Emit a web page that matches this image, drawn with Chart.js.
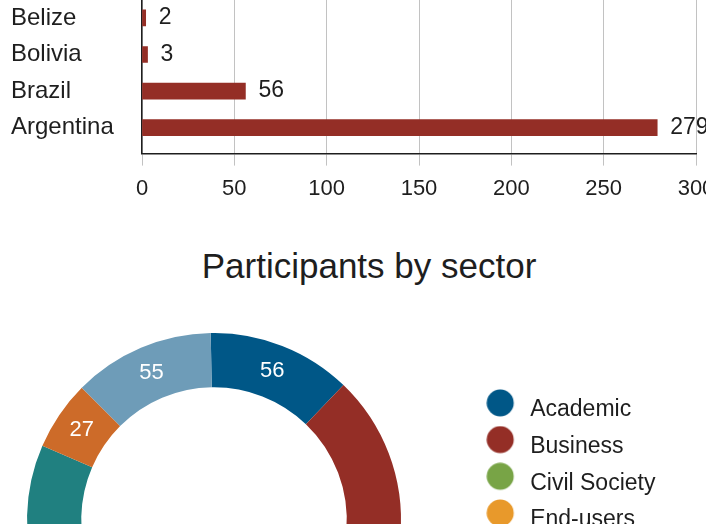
<!DOCTYPE html>
<html>
<head>
<meta charset="utf-8">
<script src="https://cdn.jsdelivr.net/npm/chart.js@4"></script>
<style>
  html, body { margin: 0; padding: 0; background: #fff; overflow: hidden; }
  #page { position: relative; width: 706px; height: 524px; overflow: hidden; }
  canvas { position: absolute; }
  #bars { left: 0; top: 0; }
  #sectors { left: -54px; top: 333px; }
  h2 {
    position: absolute; left: 0; top: 246px; width: 738px; margin: 0;
    text-align: center; font: normal 35px/40px 'Liberation Sans', sans-serif; color: #1e1e1e;
  }
</style>
</head>
<body>
<div id="page">
  <canvas id="bars" width="740" height="212"></canvas>
  <h2>Participants by sector</h2>
  <canvas id="sectors" width="800" height="374"></canvas>
</div>
<script>
// participants by country (bottom of the list only)
const countries = ['Belize', 'Bolivia', 'Brazil', 'Argentina'];
const countryValues = [2, 3, 56, 279];
const xTicks = [0, 50, 100, 150, 200, 250, 300];

// participants by sector
const sectors = ['Academic', 'Business', 'Civil Society', 'End-users', 'Government', 'Technical', 'Other'];
const sectorValues = [56, 127, 30, 45, 110, 27, 55];
const sectorColors = ['#005787', '#942e26', '#78a446', '#e8992b', '#208080', '#cd6b29', '#6e9cb8'];

Chart.defaults.font.family = "'Liberation Sans', sans-serif";
Chart.defaults.color = '#1e1e1e';

const barValues = {
    id: 'barValues',
    afterDatasetsDraw(chart) {
        const ctx = chart.ctx;
        ctx.save();
        ctx.font = "23px 'Liberation Sans'";
        ctx.fillStyle = '#1e1e1e';
        ctx.textAlign = 'left';
        ctx.textBaseline = 'middle';
        chart.getDatasetMeta(0).data.forEach((bar, i) => {
            ctx.fillText(countryValues[i], bar.x + 13, bar.y);
        });
        ctx.restore();
    }
};

const arcValues = {
    id: 'arcValues',
    afterDatasetsDraw(chart) {
        const ctx = chart.ctx;
        ctx.save();
        ctx.font = "22px 'Liberation Sans'";
        ctx.fillStyle = '#fff';
        ctx.textAlign = 'center';
        ctx.textBaseline = 'middle';
        chart.getDatasetMeta(0).data.forEach((arc, i) => {
            const p = arc.tooltipPosition();
            ctx.fillText(sectorValues[i], p.x, p.y);
        });
        ctx.restore();
    }
};

new Chart(document.getElementById('bars'), {
    type: 'bar',
    data: {
        datasets: [{
            data: countryValues.map((v, i) => ({ x: v, y: i })),
            backgroundColor: '#942e26',
            borderWidth: 0,
            barThickness: 16
        }]
    },
    options: {
        indexAxis: 'y',
        responsive: false,
        animation: false,
        layout: { padding: { left: 11, right: 44, top: 0, bottom: 0 } },
        plugins: { legend: { display: false }, tooltip: { enabled: false } },
        scales: {
            x: {
                type: 'linear',
                min: xTicks[0],
                max: xTicks[xTicks.length - 1],
                afterBuildTicks: s => { s.ticks = xTicks.map(v => ({ value: v })); },
                grid: { color: '#c2c2c2', lineWidth: 1, tickLength: 12 },
                border: { color: '#1e1e1e', width: 1.5 },
                ticks: { font: { size: 22 }, padding: 10, maxRotation: 0, autoSkip: false }
            },
            y: {
                type: 'linear',
                reverse: true,
                offset: false,
                min: -0.49,
                max: 3.71,
                afterBuildTicks: s => { s.ticks = countries.map((c, i) => ({ value: i })); },
                afterFit: s => { s.width = 131; s.paddingTop = 0; s.paddingBottom = 0; },
                grid: { display: false, drawTicks: false, offset: false },
                border: { color: '#1e1e1e', width: 1.5 },
                ticks: { font: { size: 24 }, crossAlign: 'far', padding: 0, autoSkip: false,
                         callback: v => countries[v] }
            }
        }
    },
    plugins: [barValues]
});

function dot(color) {
    const c = document.createElement('canvas');
    c.width = 42;
    c.height = 42;
    const g = c.getContext('2d');
    g.fillStyle = color;
    g.beginPath();
    g.arc(14, 14, 13.5, 0, 2 * Math.PI);
    g.fill();
    return c;
}
const dots = sectorColors.map(dot);

const donut = new Chart(document.getElementById('sectors'), {
    type: 'doughnut',
    data: {
        labels: sectors,
        datasets: [{
            data: sectorValues,
            backgroundColor: sectorColors,
            borderWidth: 0,
            hoverOffset: 0,
            offset: 0
        }]
    },
    options: {
        responsive: false,
        animation: false,
        rotation: -1,
        cutout: '71%',
        layout: { padding: { left: 0, right: 0, top: 0, bottom: 0 } },
        plugins: {
            tooltip: { enabled: false },
            legend: {
                position: 'right',
                labels: {
                    font: { size: 23 },
                    color: '#1e1e1e',
                    usePointStyle: true,
                    padding: 13.7,
                    generateLabels: chart =>
                        Chart.overrides.doughnut.plugins.legend.labels.generateLabels(chart)
                            .map((item, i) => ({ ...item, pointStyle: dots[i] }))
                }
            }
        }
    },
    plugins: [arcValues]
});

// keep the ring centred at x=214 on the page: chart area 536px wide
donut.options.layout.padding.right = 800 - 536 - donut.legend.width;
donut.update('none');
</script>
</body>
</html>
